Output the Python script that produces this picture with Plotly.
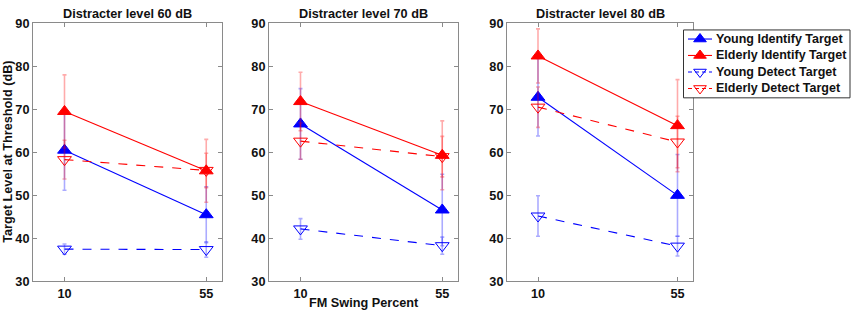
import plotly.graph_objects as go

# ---- data ----
x_vals = [10, 55]
panel_titles = ["Distracter level 60 dB", "Distracter level 70 dB", "Distracter level 80 dB"]
series_names = ["Young Identify Target", "Elderly Identify Target",
                "Young Detect Target", "Elderly Detect Target"]

young_identify = [[60.5, 45.5], [66.6, 46.6], [72.8, 50.0]]
young_identify_err = [[9.3, 6.5], [8.2, 8.3], [9.0, 9.5]]
elderly_identify = [[69.5, 55.7], [71.8, 59.3], [82.4, 66.2]]
elderly_identify_err = [[8.5, 7.3], [6.8, 8.0], [6.3, 10.7]]
young_detect = [[37.5, 37.4], [42.2, 38.3], [45.2, 38.2]]
young_detect_err = [[1.2, 1.8], [2.4, 2.0], [4.7, 2.3]]
elderly_detect = [[58.3, 55.8], [62.6, 59.0], [70.5, 62.4]]
elderly_detect_err = [[4.5, 4.0], [4.2, 4.7], [4.7, 6.0]]

y_ticks = [30, 40, 50, 60, 70, 80, 90]

# ---- styles ----
W, H = 851, 319
BLUE, RED = "rgb(0,0,255)", "rgb(255,0,0)"
BLUE_E, RED_E = "rgba(0,0,255,0.33)", "rgba(255,0,0,0.33)"
styles = [
    dict(color=BLUE, ecolor=BLUE_E, dash="solid", symbol="triangle-up"),
    dict(color=RED, ecolor=RED_E, dash="solid", symbol="triangle-up"),
    dict(color=BLUE, ecolor=BLUE_E, dash="dash", symbol="triangle-down-open"),
    dict(color=RED, ecolor=RED_E, dash="dash", symbol="triangle-down-open"),
]
FONT = "Liberation Sans, Arial, sans-serif"
FS = 12.7
TXT = "#111"
panels_px = [(33, 222), (269, 458), (507, 693)]
top_px, bot_px = 17, 287

fig = go.Figure()
data_sets = [(young_identify, young_identify_err), (elderly_identify, elderly_identify_err),
             (young_detect, young_detect_err), (elderly_detect, elderly_detect_err)]

for p in range(3):
    xa = "x" if p == 0 else f"x{p+1}"
    ya = "y" if p == 0 else f"y{p+1}"
    for s, (vals, errs) in enumerate(data_sets):
        st = styles[s]
        fig.add_trace(go.Scatter(
            x=x_vals, y=vals[p], xaxis=xa, yaxis=ya,
            name=series_names[s], showlegend=False,
            mode="lines+markers",
            line=dict(color=st["color"], width=1.1, dash=st["dash"]),
            marker=dict(symbol=st["symbol"], size=12, color=st["color"],
                        line=dict(color=st["color"], width=1)),
            error_y=dict(type="data", array=errs[p], color=st["ecolor"],
                         thickness=1.6, width=2),
        ))

# ---- custom legend drawn on an overlay pixel-space axis ----
leg_left, leg_right, leg_top, leg_bot = 683.5, 850, 24, 95
leg_rows = [33.5, 50.7, 68, 85.2]
fig.add_trace(go.Scatter(
    x=[leg_left, leg_right, leg_right, leg_left, leg_left],
    y=[leg_top, leg_top, leg_bot, leg_bot, leg_top],
    xaxis="x4", yaxis="y4", mode="lines", fill="toself", fillcolor="white",
    line=dict(color="#333", width=1), showlegend=False, hoverinfo="skip"))
for s, st in enumerate(styles):
    fig.add_trace(go.Scatter(
        x=[688, 700, 712], y=[leg_rows[s]] * 3, xaxis="x4", yaxis="y4",
        mode="lines", line=dict(color=st["color"], width=1.1,
                                dash="solid" if st["dash"] == "solid" else "4px,3px"),
        showlegend=False, hoverinfo="skip"))
    fig.add_trace(go.Scatter(
        x=[700], y=[leg_rows[s]], xaxis="x4", yaxis="y4", mode="markers",
        marker=dict(symbol=st["symbol"], size=11, color=st["color"],
                    line=dict(color=st["color"], width=1)),
        showlegend=False, hoverinfo="skip"))

layout_axes = {}
for p, (l, r) in enumerate(panels_px):
    sfx = "" if p == 0 else str(p + 1)
    common = dict(showline=True, mirror="ticks", linecolor="#8a8a8a", linewidth=1,
                  ticks="inside", ticklen=4, tickcolor="#8a8a8a", showgrid=False,
                  zeroline=False, tickfont=dict(family=FONT, size=FS, color=TXT, weight="bold"))
    layout_axes["xaxis" + sfx] = dict(domain=[l / W, r / W], range=[0, 60],
                                      tickvals=x_vals, anchor="y" + sfx, **common)
    layout_axes["yaxis" + sfx] = dict(domain=[1 - bot_px / H, 1 - top_px / H], range=[30, 90],
                                      tickvals=y_ticks, anchor="x" + sfx, **common)
layout_axes["xaxis4"] = dict(domain=[0, 1], range=[0, W], visible=False, anchor="y4", fixedrange=True)
layout_axes["yaxis4"] = dict(domain=[0, 1], range=[H, 0], visible=False, anchor="x4", fixedrange=True)

annotations = []
for p, (l, r) in enumerate(panels_px):
    annotations.append(dict(text=panel_titles[p], x=(l + r) / 2 / W, y=1 - 7.5 / H,
                            xref="paper", yref="paper", showarrow=False,
                            xanchor="center", yanchor="middle",
                            font=dict(family=FONT, size=FS, color=TXT, weight="bold")))
annotations.append(dict(text="FM Swing Percent", x=(panels_px[1][0] + panels_px[1][1]) / 2 / W,
                        y=1 - 310 / H, xref="paper", yref="paper", showarrow=False,
                        xanchor="center", yanchor="middle",
                        font=dict(family=FONT, size=FS, color=TXT, weight="bold")))
annotations.append(dict(text="Target Level at Threshold (dB)", x=8.5 / W, y=1 - 152 / H,
                        xref="paper", yref="paper", showarrow=False, textangle=-90,
                        xanchor="center", yanchor="middle",
                        font=dict(family=FONT, size=FS, color=TXT, weight="bold")))
for s, name in enumerate(series_names):
    annotations.append(dict(text=name, x=713.5 / W, y=1 - leg_rows[s] / H,
                            xref="paper", yref="paper", showarrow=False,
                            xanchor="left", yanchor="middle",
                            font=dict(family=FONT, size=12.5, color=TXT, weight="bold")))

fig.update_layout(
    width=W, height=H, margin=dict(l=0, r=0, t=0, b=0),
    paper_bgcolor="white", plot_bgcolor="rgba(0,0,0,0)",
    annotations=annotations, showlegend=False,
    **layout_axes,
)

POST = ("document.documentElement.style.margin='0';document.documentElement.style.overflow='hidden';"
        "document.body.style.margin='0';document.body.style.overflow='hidden';"
        "var gd=document.getElementById('{plot_id}');gd.style.position='fixed';"
        "gd.style.left='0px';gd.style.top='0px';")
fig.write_html("out.html", config={"displayModeBar": False}, post_script=POST)
